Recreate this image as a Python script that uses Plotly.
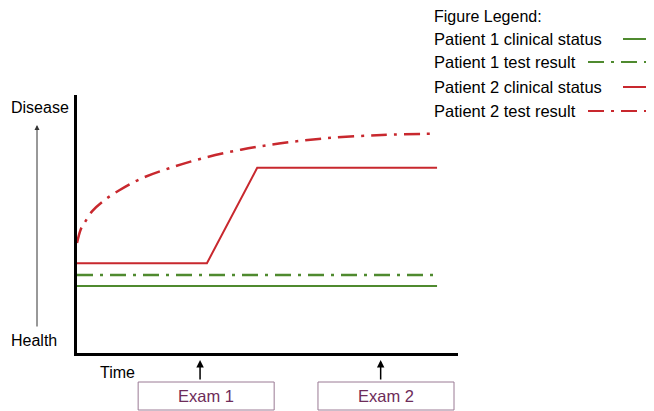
import plotly.graph_objects as go

# ---- data (time 0..100, disease level 0=health .. 100=disease) ----
p1_clinical_x = [0, 94.5]
p1_clinical_y = [26.0, 26.0]

p1_test_x = [0, 94.5]
p1_test_y = [30.2, 30.2]

p2_clinical_x = [0, 34.1, 47.3, 94.5]
p2_clinical_y = [34.8, 34.8, 71.8, 71.8]

p2_test_x = [0, 1, 2, 4, 7, 11, 16.5, 24, 33, 43, 53, 65, 80, 94.5]
p2_test_y = [42.6, 48, 50.5, 55, 59, 63, 67.4, 71.5, 75.5, 78.8, 81.2, 83.2, 84.5, 85.0]

exam_x = [32.3, 79.7]          # time of each exam (arrow position)
exam_box_center = [33.9, 81.1]  # label box centres on the time axis
exam_labels = ["Exam 1", "Exam 2"]
exam_box_halfwidth = 17.85

legend_labels = ["Patient 1 clinical status", "Patient 1 test result",
                 "Patient 2 clinical status", "Patient 2 test result"]

GREEN = "#4f8a2f"
RED = "#c8282e"
DASHDOT = "16px,7px,3px,7px"
FONT = "Liberation Sans, Arial, sans-serif"
BOX_LINE = "#9a7a94"
BOX_TEXT = "#6e2c5a"

# page has an 8px body margin: figure is placed at (8, 8)
OFF = 8
W, H = 654 - OFF, 411 - OFF
L, R, T, B = 77 - OFF, 196, 95 - OFF, 58
PW, PH = W - L - R, H - T - B


def px_x(px):  # page pixel -> paper x
    return (px - OFF - L) / PW


def px_y(py):  # page pixel -> paper y
    return (H - B - (py - OFF)) / PH


fig = go.Figure()
fig.add_trace(go.Scatter(x=p1_clinical_x, y=p1_clinical_y, mode="lines",
                         line=dict(color=GREEN, width=2), name=legend_labels[0]))
fig.add_trace(go.Scatter(x=p1_test_x, y=p1_test_y, mode="lines",
                         line=dict(color=GREEN, width=2.5, dash=DASHDOT), name=legend_labels[1]))
fig.add_trace(go.Scatter(x=p2_clinical_x, y=p2_clinical_y, mode="lines",
                         line=dict(color=RED, width=2), name=legend_labels[2]))
fig.add_trace(go.Scatter(x=p2_test_x, y=p2_test_y, mode="lines", line_shape="spline",
                         line=dict(color=RED, width=2.5, dash=DASHDOT), name=legend_labels[3]))

annotations = []
shapes = []


def text_ann(px, py, txt, size=16, color="black", xanchor="center"):
    return dict(x=px_x(px), y=px_y(py), xref="paper", yref="paper", text=txt,
                xanchor=xanchor, yanchor="middle", showarrow=False,
                font=dict(family=FONT, size=size, color=color))


# Exam boxes and arrows
for ex, bc, lab in zip(exam_x, exam_box_center, exam_labels):
    shapes.append(dict(type="rect", xref="x", yref="paper",
                       x0=bc - exam_box_halfwidth, x1=bc + exam_box_halfwidth,
                       y0=px_y(410), y1=px_y(382),
                       line=dict(color=BOX_LINE, width=1), fillcolor="white"))
    annotations.append(dict(x=bc, y=px_y(396), xref="x", yref="paper", text=lab,
                            xanchor="center", yanchor="middle",
                            showarrow=False, font=dict(family=FONT, size=16.5, color=BOX_TEXT)))
    annotations.append(dict(x=ex, y=px_y(360), xref="x", yref="paper", text="",
                            showarrow=True, ax=0, ay=21, arrowhead=2, arrowsize=1,
                            arrowwidth=1.5, arrowcolor="black"))

# Axis descriptors
annotations.append(text_ann(117, 372, "Time"))
annotations.append(text_ann(40, 107, "Disease"))
annotations.append(text_ann(34, 340, "Health"))
annotations.append(dict(x=px_x(37), y=px_y(125), xref="paper", yref="paper", text="",
                        ax=0, ay=203,
                        showarrow=True, arrowhead=2, arrowsize=1, arrowwidth=1,
                        arrowcolor="#333333"))

# Legend (drawn manually, samples to the right of the text)
annotations.append(text_ann(432, 17, "Figure Legend:", size=16, xanchor="left"))
leg_y = [39, 62, 87, 111]
leg_styles = [(GREEN, "solid", 623), (GREEN, DASHDOT, 588),
              (RED, "solid", 623), (RED, DASHDOT, 588)]
for lab, ly, (col, dash, x0) in zip(legend_labels, leg_y, leg_styles):
    annotations.append(text_ann(432, ly, lab, size=16.5, xanchor="left"))
    shapes.append(dict(type="line", xref="paper", yref="paper",
                       x0=px_x(x0), x1=px_x(654), y0=px_y(ly), y1=px_y(ly),
                       line=dict(color=col, width=2, dash=dash)))

fig.update_layout(
    width=W, height=H,
    margin=dict(l=L, r=R, t=T, b=B, pad=0),
    paper_bgcolor="white", plot_bgcolor="white",
    showlegend=False,
    xaxis=dict(range=[0, 100], showgrid=False, zeroline=False, showticklabels=False,
               ticks="", showline=True, linecolor="black", linewidth=2.5),
    yaxis=dict(range=[0, 100], showgrid=False, zeroline=False, showticklabels=False,
               ticks="", showline=True, linecolor="black", linewidth=2.5),
    shapes=shapes,
    annotations=annotations,
)

fig.write_html("out.html")
